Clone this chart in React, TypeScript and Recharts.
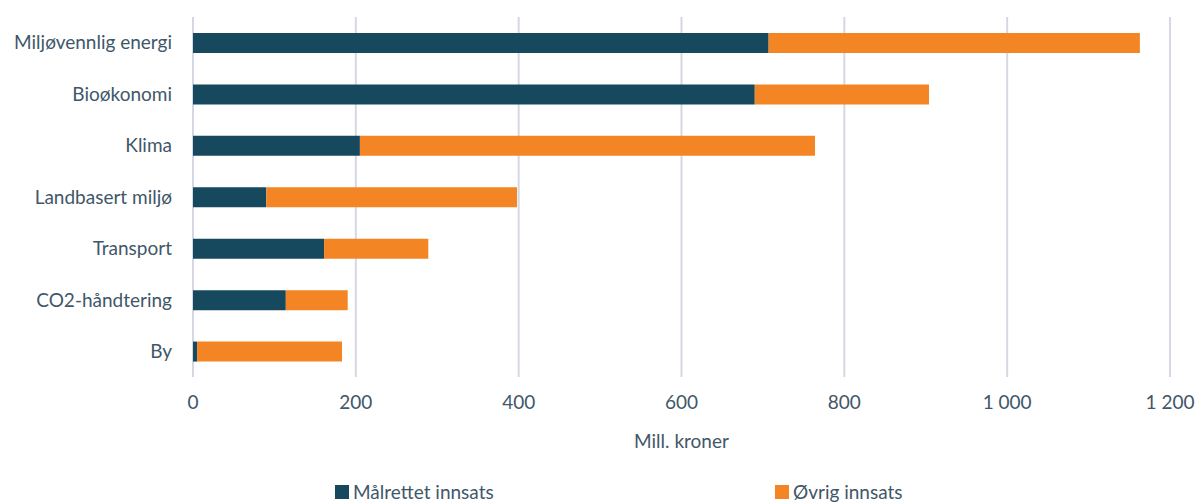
import { Bar, BarChart, CartesianGrid, Label, Legend, XAxis, YAxis } from "recharts";

const categories = [
  "Miljøvennlig energi",
  "Bioøkonomi",
  "Klima",
  "Landbasert miljø",
  "Transport",
  "CO2-håndtering",
  "By",
];
const targeted = [707, 690, 205, 90, 161, 114, 5];
const other = [456, 214, 559, 308, 128, 76, 178];
const xTicks = [0, 200, 400, 600, 800, 1000, 1200];

const data = categories.map((name, i) => ({ name, targeted: targeted[i], other: other[i] }));

const textColor = "#3f5769";
const font = "Lato, 'Open Sans', sans-serif";
const fs = 19;

const fmt = (v: number) => String(v).replace(/\B(?=(\d{3})+(?!\d))/g, " ");

function LegendContent({ payload }: any) {
  const widths = [440, 200];
  return (
    <div style={{ display: "flex", paddingLeft: 335, height: 51, alignItems: "flex-end", fontFamily: font, fontSize: fs, color: textColor }}>
      {(payload || []).map((p: any, i: number) => (
        <div key={p.value} style={{ width: widths[i], display: "flex", alignItems: "center", lineHeight: "22px" }}>
          <span style={{ display: "inline-block", width: 14, height: 14, background: p.color, marginRight: 4 }} />
          <span>{p.value}</span>
        </div>
      ))}
    </div>
  );
}

export default function App() {
  return (
    <div style={{ position: "absolute", left: 0, top: 0, width: 1196, height: 503, background: "#fff", overflow: "hidden" }}>
      <BarChart
        width={1196}
        height={503}
        data={data}
        layout="vertical"
        margin={{ top: 17, right: 26, bottom: 0, left: 0 }}
        barSize={20}
      >
        <CartesianGrid horizontal={false} stroke="#d5d8e4" strokeWidth={2} />
        <XAxis
          type="number"
          domain={[0, 1200]}
          ticks={xTicks}
          tickFormatter={fmt}
          axisLine={false}
          tickLine={false}
          tickSize={0}
          tickMargin={19}
          height={75}
          tick={{ fill: textColor, fontSize: fs, fontFamily: font }}
        >
          <Label value="Mill. kroner" position="insideBottom" offset={4} fill={textColor} fontSize={fs} fontFamily={font} />
        </XAxis>
        <YAxis
          type="category"
          dataKey="name"
          width={193}
          axisLine={false}
          tickLine={false}
          tickSize={0}
          tickMargin={21}
          tick={{ fill: textColor, fontSize: fs, fontFamily: font }}
        />
        <Legend verticalAlign="bottom" height={51} content={<LegendContent />} />
        <Bar dataKey="targeted" name="Målrettet innsats" stackId="a" fill="#17495e" isAnimationActive={false} />
        <Bar dataKey="other" name="Øvrig innsats" stackId="a" fill="#f38524" isAnimationActive={false} />
      </BarChart>
    </div>
  );
}
